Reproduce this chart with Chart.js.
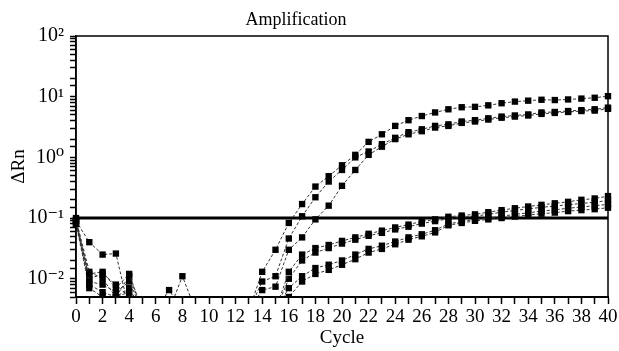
<!DOCTYPE html>
<html>
<head>
<meta charset="utf-8">
<script src="https://cdn.jsdelivr.net/npm/chart.js@4/dist/chart.umd.min.js"></script>
<style>
  html, body { margin: 0; padding: 0; background: #fff; }
  #wrap { width: 619px; height: 351px; position: relative; }
</style>
</head>
<body>
<div id="wrap"><canvas id="ampChart"></canvas></div>
<script>
const cycles = [0, 1, 2, 3, 4, 5, 6, 7, 8, 9, 10, 11, 12, 13, 14, 15, 16, 17, 18, 19, 20,
  21, 22, 23, 24, 25, 26, 27, 28, 29, 30, 31, 32, 33, 34, 35, 36, 37, 38, 39, 40];

// high copy number samples
const highA = [0.09, 0.04, 0.025, 0.026, 0.003, 0.003, 0.003, 0.003, 0.011, 0.003, 0.003,
  0.003, 0.003, 0.003, 0.013, 0.03, 0.083, 0.17, 0.33, 0.49, 0.74,
  1.1, 1.8, 2.4, 3.3, 4.1, 4.8, 5.5, 6.2, 6.7, 6.8,
  7.2, 7.8, 8.3, 8.6, 8.9, 8.8, 9.0, 9.3, 9.6, 10.2];
const highB = [0.08, 0.012, 0.013, 0.007, 0.012, 0.003, 0.003, 0.0065, 0.003, 0.003, 0.003,
  0.003, 0.003, 0.003, 0.009, 0.011, 0.046, 0.107, 0.22, 0.4, 0.62,
  1.0, 1.25, 1.65, 2.1, 2.6, 2.9, 3.3, 3.5, 3.9, 4.1,
  4.4, 4.7, 4.9, 5.1, 5.5, 5.6, 5.8, 6.0, 6.2, 6.6];
const highC = [0.1, 0.009, 0.008, 0.006, 0.009, 0.003, 0.003, 0.003, 0.003, 0.003, 0.003,
  0.003, 0.003, 0.003, 0.0065, 0.0074, 0.03, 0.048, 0.095, 0.16, 0.34,
  0.62, 1.1, 1.5, 2.0, 2.4, 2.7, 3.1, 3.3, 3.7, 3.9,
  4.2, 4.5, 4.7, 4.9, 5.2, 5.4, 5.6, 5.8, 5.9, 6.3];

// low copy number samples
const lowA = [0.095, 0.013, 0.01, 0.005, 0.007, 0.003, 0.003, 0.003, 0.003, 0.003, 0.003,
  0.003, 0.003, 0.003, 0.003, 0.003, 0.013, 0.025, 0.032, 0.036, 0.042,
  0.048, 0.055, 0.062, 0.07, 0.078, 0.088, 0.095, 0.105, 0.11, 0.115,
  0.125, 0.135, 0.145, 0.155, 0.165, 0.175, 0.185, 0.2, 0.21, 0.23];
const lowB = [0.085, 0.008, 0.006, 0.005, 0.006, 0.003, 0.003, 0.003, 0.003, 0.003, 0.003,
  0.003, 0.003, 0.003, 0.003, 0.003, 0.01, 0.02, 0.027, 0.032, 0.038,
  0.044, 0.051, 0.057, 0.065, 0.072, 0.081, 0.089, 0.097, 0.103, 0.108,
  0.115, 0.125, 0.133, 0.142, 0.15, 0.158, 0.166, 0.174, 0.182, 0.195];
const lowC = [0.09, 0.01, 0.012, 0.008, 0.005, 0.003, 0.003, 0.003, 0.003, 0.003, 0.003,
  0.003, 0.003, 0.003, 0.003, 0.003, 0.007, 0.011, 0.015, 0.017, 0.02,
  0.025, 0.031, 0.035, 0.041, 0.048, 0.054, 0.063, 0.08, 0.088, 0.095,
  0.1, 0.107, 0.115, 0.122, 0.13, 0.137, 0.145, 0.152, 0.16, 0.168];
const lowD = [0.08, 0.007, 0.005, 0.005, 0.011, 0.003, 0.003, 0.003, 0.003, 0.003, 0.003,
  0.003, 0.003, 0.003, 0.003, 0.003, 0.005, 0.009, 0.012, 0.014, 0.017,
  0.021, 0.027, 0.031, 0.037, 0.044, 0.05, 0.058, 0.076, 0.083, 0.09,
  0.095, 0.1, 0.106, 0.112, 0.118, 0.123, 0.13, 0.135, 0.14, 0.148];

const threshold = 0.1;
const yTickLabels = { "2": "10²", "1": "10¹", "0": "10⁰", "-1": "10⁻¹", "-2": "10⁻²" };

const serif = "'Liberation Serif', 'DejaVu Serif', serif";

function curve(values) {
  return {
    data: values.map((v, i) => ({ x: cycles[i], y: v })),
    borderColor: "#333",
    borderWidth: 1,
    borderDash: [3, 2],
    pointStyle: "rect",
    pointRadius: 4.5,
    pointBackgroundColor: "#000",
    pointBorderWidth: 0,
    clip: { left: 5, right: 5, top: 0, bottom: 0 }
  };
}

const framePlugin = {
  id: "frame",
  afterDraw(chart) {
    const { ctx, chartArea } = chart;
    ctx.save();
    ctx.strokeStyle = "#000";
    ctx.lineWidth = 1.5;
    ctx.strokeRect(chartArea.left, chartArea.top, chartArea.right - chartArea.left, chartArea.bottom - chartArea.top);
    // title
    ctx.fillStyle = "#000";
    ctx.font = "18px " + serif;
    ctx.textAlign = "center";
    ctx.textBaseline = "middle";
    ctx.fillText("Amplification", 296, 20);
    ctx.restore();
  }
};

new Chart(document.getElementById("ampChart"), {
  type: "line",
  data: {
    datasets: [
      curve(highA), curve(highB), curve(highC),
      curve(lowA), curve(lowB), curve(lowC), curve(lowD),
      {
        data: [{ x: cycles[0], y: threshold }, { x: cycles[cycles.length - 1], y: threshold }],
        borderColor: "#000",
        borderWidth: 3,
        pointRadius: 0
      }
    ]
  },
  options: {
    responsive: true,
    maintainAspectRatio: false,
    animation: false,
    layout: { padding: { top: 36, right: 11, left: 0, bottom: 0 } },
    plugins: {
      legend: { display: false },
      tooltip: { enabled: false },
      title: { display: false }
    },
    scales: {
      x: {
        type: "linear",
        min: 0,
        max: 40,
        ticks: {
          stepSize: 1,
          autoSkip: false,
          maxRotation: 0,
          color: "#000",
          padding: 2,
          font: { family: serif, size: 19 },
          callback: (v) => (v % 2 === 0 ? String(v) : "")
        },
        grid: { drawOnChartArea: false, tickLength: 7, color: "#000", tickWidth: 1.5 },
        border: { display: true, color: "#000", width: 2 },
        title: {
          display: true,
          text: "Cycle",
          color: "#000",
          font: { family: serif, size: 19 },
          padding: { top: 0, bottom: 2 }
        },
        afterFit(scale) {
          scale.height = 54;
          scale.paddingLeft = 0;
          scale.paddingRight = 0;
        }
      },
      y: {
        type: "logarithmic",
        min: 0.005,
        max: 100,
        ticks: {
          autoSkip: false,
          color: "#000",
          padding: 6,
          font: { family: serif, size: 20 },
          callback: (v) => {
            const p = Math.log10(v);
            return Math.abs(p - Math.round(p)) < 1e-9 ? (yTickLabels[String(Math.round(p))] || "") : "";
          }
        },
        grid: { drawOnChartArea: false, tickLength: 6, color: "#000", tickWidth: 1.5 },
        border: { display: true, color: "#000", width: 1.5 },
        title: {
          display: true,
          text: "ΔRn",
          color: "#000",
          font: { family: serif, size: 19 },
          padding: { top: 8, bottom: 0 }
        },
        afterFit(scale) {
          scale.width = 76;
          scale.paddingTop = 0;
          scale.paddingBottom = 0;
        }
      }
    }
  },
  plugins: [framePlugin]
});
</script>
</body>
</html>
